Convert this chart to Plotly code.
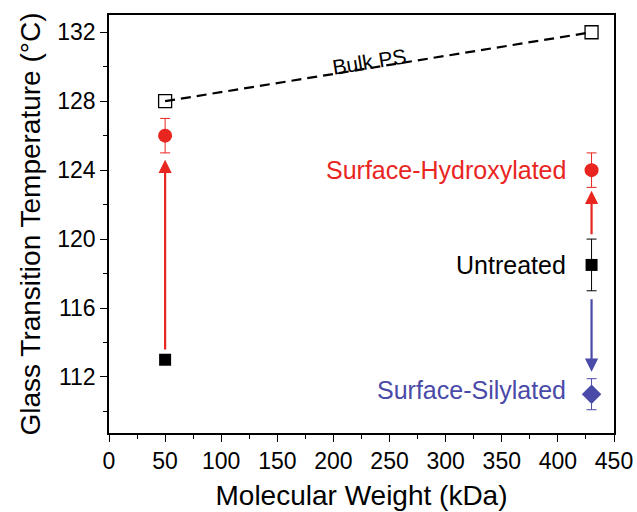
import plotly.graph_objects as go

# Data
bulk_mw = [50, 430]
bulk_tg = [128, 132]

untreated_mw = [50, 430]
untreated_tg = [113, 118.5]
untreated_err = [0, 1.5]

hydrox_mw = [50, 430]
hydrox_tg = [126, 124]
hydrox_err = [1.0, 1.0]

silyl_mw = [430]
silyl_tg = [111]
silyl_err = [0.9]

# arrows: (x, y_start, y_end, color)
arrow_x = [50, 430, 430]
arrow_from = [113.5, 120.2, 116.6]
arrow_to = [124.6, 122.8, 112.3]
arrow_col = ["#e8251f", "#e8251f", "#4a4aa8"]

RED = "#e8251f"
BLUE = "#4a4aa8"
FONT = "Liberation Sans, Arial, sans-serif"

fig = go.Figure()

fig.add_trace(go.Scatter(x=bulk_mw, y=bulk_tg, mode="lines+markers",
                         line=dict(color="black", width=2.2, dash="10px,6px"),
                         marker=dict(symbol="square-open", size=13, color="black",
                                     line=dict(width=1.3, color="black")),
                         showlegend=False))
fig.add_trace(go.Scatter(x=hydrox_mw, y=hydrox_tg, mode="markers",
                         marker=dict(symbol="circle", size=14, color=RED),
                         error_y=dict(type="data", array=hydrox_err, color=RED,
                                      thickness=1, width=5),
                         showlegend=False))
fig.add_trace(go.Scatter(x=untreated_mw, y=untreated_tg, mode="markers",
                         marker=dict(symbol="square", size=12, color="black"),
                         error_y=dict(type="data", array=untreated_err, color="black",
                                      thickness=1, width=5),
                         showlegend=False))
fig.add_trace(go.Scatter(x=silyl_mw, y=silyl_tg, mode="markers",
                         marker=dict(symbol="diamond", size=15, color=BLUE),
                         error_y=dict(type="data", array=silyl_err, color=BLUE,
                                      thickness=1, width=5),
                         showlegend=False))

annotations = []
for x, y0, y1, c in zip(arrow_x, arrow_from, arrow_to, arrow_col):
    annotations.append(dict(x=x, y=y1, ax=x, ay=y0, xref="x", yref="y",
                            axref="x", ayref="y", text="", showarrow=True,
                            arrowhead=2, arrowsize=1.2, arrowwidth=2.2,
                            arrowcolor=c))

annotations += [
    dict(x=409, y=124, xref="x", yref="y", text="Surface-Hydroxylated",
         showarrow=False, xanchor="right", font=dict(color=RED, size=25, family=FONT)),
    dict(x=409, y=118.5, xref="x", yref="y", text="Untreated",
         showarrow=False, xanchor="right", font=dict(color="black", size=25, family=FONT)),
    dict(x=409, y=111.25, xref="x", yref="y", text="Surface-Silylated",
         showarrow=False, xanchor="right", font=dict(color=BLUE, size=25, family=FONT)),
    dict(x=232, y=130.3, xref="x", yref="y", text="Bulk PS", textangle=-9,
         showarrow=False, font=dict(color="black", size=21, family=FONT)),
]

fig.update_layout(
    width=637, height=512,
    margin=dict(l=109, r=23, t=15, b=79),
    paper_bgcolor="white", plot_bgcolor="white",
    font=dict(family=FONT, color="black"),
    annotations=annotations,
    showlegend=False,
)
fig.update_xaxes(range=[0, 450], tickvals=list(range(0, 451, 50)), automargin=False,
                 ticks="outside", ticklen=7, tickwidth=1.3, tickcolor="black",
                 minor=dict(ticks="outside", ticklen=4, dtick=25, tickcolor="black"),
                 showline=True, linecolor="black", linewidth=1.5, mirror=True,
                 showgrid=False, zeroline=False,
                 tickfont=dict(size=23, family=FONT),
                 title=dict(text="Molecular Weight (kDa)", font=dict(size=28, family=FONT), standoff=12))
fig.update_yaxes(range=[108.75, 133], tickvals=list(range(112, 133, 4)), automargin=False,
                 ticks="outside", ticklen=7, tickwidth=1.3, tickcolor="black",
                 minor=dict(ticks="outside", ticklen=4, dtick=2, tickcolor="black"),
                 showline=True, linecolor="black", linewidth=1.5, mirror=True,
                 showgrid=False, zeroline=False,
                 tickfont=dict(size=23, family=FONT),
                 title=dict(text="Glass Transition Temperature (°C)", font=dict(size=28, family=FONT), standoff=8))

fig.write_html("out.html")
